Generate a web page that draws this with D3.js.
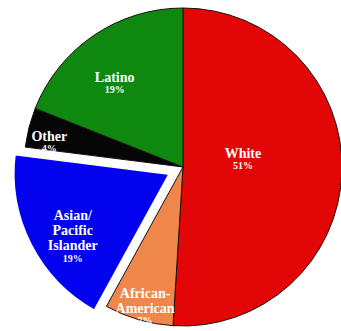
<!DOCTYPE html>
<html>
<head>
<meta charset="utf-8">
<script src="https://cdn.jsdelivr.net/npm/d3@7"></script>
<style>
  html, body { margin: 0; padding: 0; background: #fff; }
  svg { display: block; }
</style>
</head>
<body>
<svg id="chart" width="341" height="331"></svg>
<script>
// Population share by group, clockwise from 12 o'clock
const categories = ["White", "African-American", "Asian/Pacific Islander", "Other", "Latino"];
const values = [51, 7, 19, 4, 19];
const nameLines = [["White"], ["African-", "American"], ["Asian/", "Pacific", "Islander"], ["Other"], ["Latino"]];
const colors = ["#e20606", "#f0874a", "#0202ee", "#060606", "#0f880f"];
const explodedCategory = "Asian/Pacific Islander";

// label placement: fraction of radius and angular nudge (degrees)
const labelPlacement = {
  "White": { r: 0.38, nudge: -9 },
  "African-American": { r: 0.91, nudge: -1 },
  "Asian/Pacific Islander": { r: 0.74, nudge: -6 },
  "Other": { r: 0.855, nudge: -4 },
  "Latino": { r: 0.68, nudge: -5 }
};

const cx = 183, cy = 167, R = 159, explode = 13;

const data = categories.map((c, i) => ({ name: c, value: values[i], lines: nameLines[i], color: colors[i] }));

const pie = d3.pie().sort(null).value(d => d.value).startAngle(0).endAngle(2 * Math.PI);
const arc = d3.arc().innerRadius(0).outerRadius(R);
const arcs = pie(data);

const svg = d3.select("#chart");
const g = svg.append("g").attr("transform", `translate(${cx},${cy})`);

const offsetOf = d => {
  if (d.data.name !== explodedCategory) return [0, 0];
  const mid = (d.startAngle + d.endAngle) / 2;
  return [Math.sin(mid) * explode, -Math.cos(mid) * explode];
};

// regular slices first, exploded slice on top with its white border
const ordered = arcs.filter(d => d.data.name !== explodedCategory)
  .concat(arcs.filter(d => d.data.name === explodedCategory));

g.selectAll("path.slice")
  .data(ordered)
  .join("path")
  .attr("class", "slice")
  .attr("transform", d => `translate(${offsetOf(d)})`)
  .attr("d", arc)
  .attr("fill", d => d.data.color)
  .attr("stroke", d => d.data.name === explodedCategory ? "#ffffff" : "#1c1010")
  .attr("stroke-width", d => d.data.name === explodedCategory ? 4.5 : 1)
  .attr("stroke-linejoin", "miter");

// labels: group name lines then the percentage
const nameSize = 14, pctSize = 10, nameGap = 15, pctGap = 13;
arcs.forEach(d => {
  const p = labelPlacement[d.data.name];
  const mid = (d.startAngle + d.endAngle) / 2 + p.nudge * Math.PI / 180;
  const [ox, oy] = offsetOf(d);
  const x = ox + Math.sin(mid) * R * p.r;
  const y = oy - Math.cos(mid) * R * p.r;
  const n = d.data.lines.length;
  const blockH = (n - 1) * nameGap + pctGap;
  const top = y - blockH / 2;
  const t = g.append("text")
    .attr("text-anchor", "middle")
    .attr("fill", "#ffffff")
    .attr("font-family", "'Liberation Serif', 'Times New Roman', serif")
    .attr("font-weight", "bold");
  d.data.lines.forEach((line, i) => {
    t.append("tspan")
      .attr("x", x)
      .attr("y", top + i * nameGap)
      .attr("dy", "0.35em")
      .attr("font-size", nameSize)
      .text(line);
  });
  t.append("tspan")
    .attr("x", x)
    .attr("y", top + (n - 1) * nameGap + pctGap)
    .attr("dy", "0.35em")
    .attr("font-size", pctSize)
    .text(d.data.value + "%");
});
</script>
</body>
</html>
